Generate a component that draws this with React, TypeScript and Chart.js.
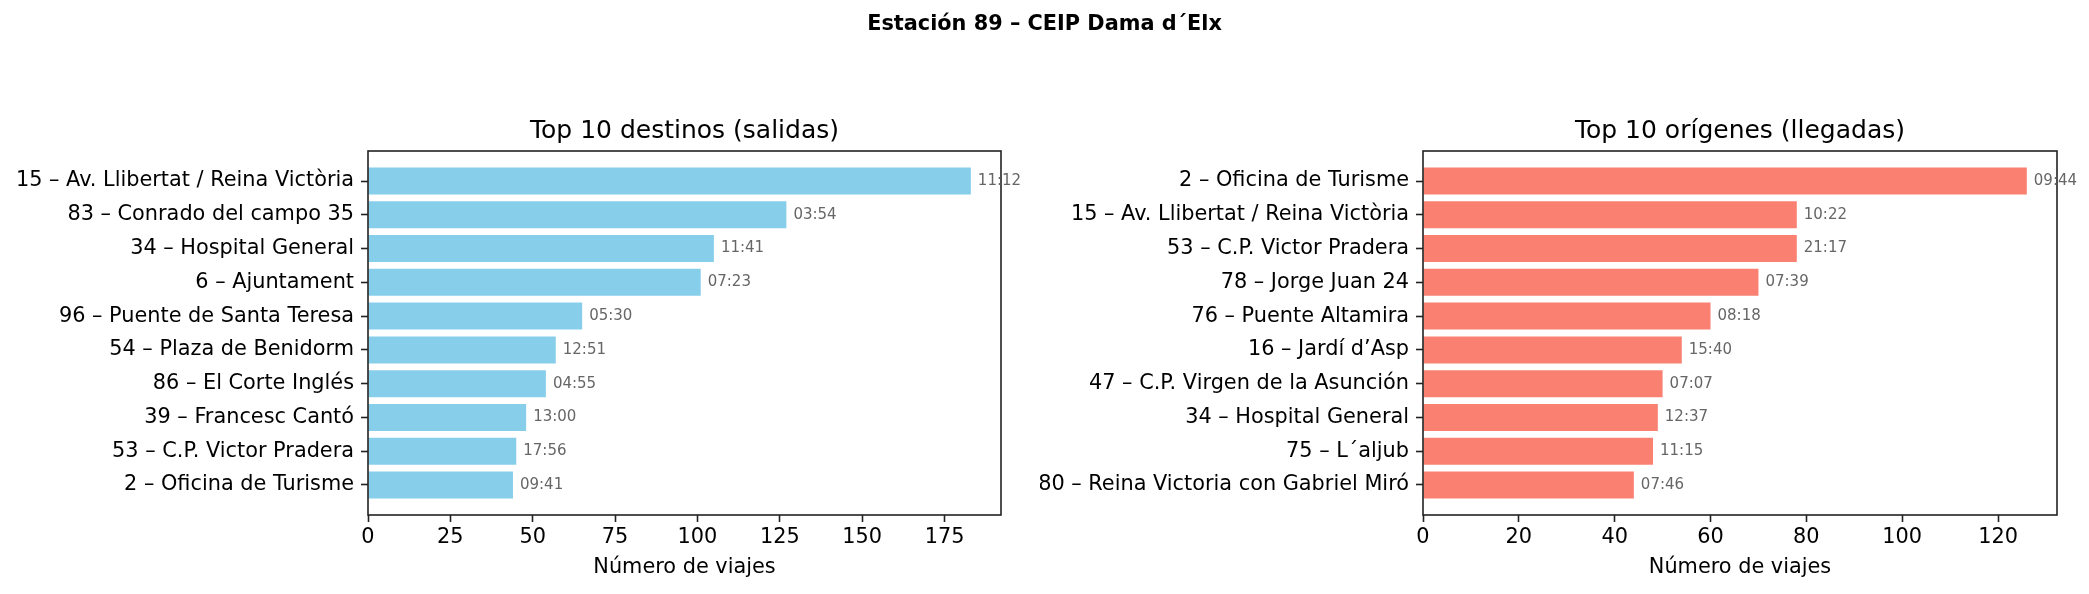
import React, { useEffect, useRef } from "react";
import { Chart, registerables } from "chart.js";

Chart.register(...registerables);

const SUPTITLE = "Estación 89 – CEIP Dama d´Elx";
const X_LABEL = "Número de viajes";

const leftTitle = "Top 10 destinos (salidas)";
const leftStations = [
  "15 – Av. Llibertat / Reina Victòria",
  "83 – Conrado del campo 35",
  "34 – Hospital General",
  "6 – Ajuntament",
  "96 – Puente de Santa Teresa",
  "54 – Plaza de Benidorm",
  "86 – El Corte Inglés",
  "39 – Francesc Cantó",
  "53 – C.P. Victor Pradera",
  "2 – Oficina de Turisme",
];
const leftTrips = [183, 127, 105, 101, 65, 57, 54, 48, 45, 44];
const leftTimes = ["11:12", "03:54", "11:41", "07:23", "05:30", "12:51", "04:55", "13:00", "17:56", "09:41"];
const leftTicks = [0, 25, 50, 75, 100, 125, 150, 175];

const rightTitle = "Top 10 orígenes (llegadas)";
const rightStations = [
  "2 – Oficina de Turisme",
  "15 – Av. Llibertat / Reina Victòria",
  "53 – C.P. Victor Pradera",
  "78 – Jorge Juan 24",
  "76 – Puente Altamira",
  "16 – Jardí d’Asp",
  "47 – C.P. Virgen de la Asunción",
  "34 – Hospital General",
  "75 – L´aljub",
  "80 – Reina Victoria con Gabriel Miró",
];
const rightTrips = [126, 78, 78, 70, 60, 54, 50, 49, 48, 44];
const rightTimes = ["09:44", "10:22", "21:17", "07:39", "08:18", "15:40", "07:07", "12:37", "11:15", "07:46"];
const rightTicks = [0, 20, 40, 60, 80, 100, 120];

const FONT = "'DejaVu Sans', sans-serif";
const PAGE_W = 2089;
const PAGE_H = 594;
const SPLIT = 1040;
const AXES_TOP = 151;
const TITLE_Y = 131.2;
const TICK_SIZE = 20.83;

if (typeof document !== "undefined") {
  document.body.style.margin = "0";
}

const framePlugin = {
  id: "frame",
  afterDatasetsDraw(chart: any) {
    const { ctx, chartArea } = chart;
    ctx.save();
    ctx.strokeStyle = "#222";
    ctx.lineWidth = 1.6;
    ctx.strokeRect(chartArea.left, chartArea.top, chartArea.right - chartArea.left, chartArea.bottom - chartArea.top);
    ctx.restore();
  },
};

const makeAxesTitle = (title: string) => ({
  id: "axesTitle",
  afterDraw(chart: any) {
    const { ctx, chartArea } = chart;
    ctx.save();
    ctx.font = `25px ${FONT}`;
    ctx.fillStyle = "#000";
    ctx.textAlign = "center";
    ctx.textBaseline = "middle";
    ctx.fillText(title, (chartArea.left + chartArea.right) / 2, TITLE_Y);
    ctx.restore();
  },
});

const makeValueLabels = (times: string[]) => ({
  id: "valueLabels",
  afterDatasetsDraw(chart: any) {
    const meta = chart.getDatasetMeta(0);
    const ctx = chart.ctx;
    ctx.save();
    ctx.font = `15px ${FONT}`;
    ctx.fillStyle = "#666";
    ctx.textAlign = "left";
    ctx.textBaseline = "middle";
    meta.data.forEach((bar: any, i: number) => {
      ctx.fillText(times[i], bar.x + 7, bar.y);
    });
    ctx.restore();
  },
});

type PanelProps = {
  labels: string[];
  values: number[];
  times: string[];
  ticks: number[];
  title: string;
  color: string;
  width: number;
  yAxisWidth: number;
  padRight: number;
  left: number;
};

function Panel(p: PanelProps) {
  const ref = useRef<HTMLCanvasElement | null>(null);
  useEffect(() => {
    if (!ref.current) return;
    const n = p.labels.length;
    const lo = -0.4;
    const hi = n - 1 + 0.4;
    const m = (hi - lo) * 0.05;
    const xmax = Math.max(...p.values) * 1.05;
    const tickFont = { family: FONT, size: TICK_SIZE, weight: "normal" as const, lineHeight: 1.2 };
    const chart = new Chart(ref.current, {
      type: "bar",
      data: {
        datasets: [
          {
            data: p.values.map((v, i) => ({ x: v, y: i })),
            backgroundColor: p.color,
            borderWidth: 0,
            barPercentage: 0.8,
            categoryPercentage: 1.0,
          },
        ],
      },
      options: {
        indexAxis: "y",
        responsive: false,
        animation: false,
        devicePixelRatio: 1,
        layout: { padding: { left: 0, right: p.padRight, top: AXES_TOP, bottom: 0 } },
        plugins: {
          legend: { display: false },
          tooltip: { enabled: false },
          title: { display: false },
        },
        scales: {
          x: {
            type: "linear",
            position: "bottom",
            min: 0,
            max: xmax,
            offset: false,
            afterBuildTicks: (s: any) => {
              s.ticks = p.ticks.map((v) => ({ value: v }));
            },
            afterFit: (s: any) => {
              s.height = 79;
            },
            grid: {
              display: true,
              offset: false,
              drawOnChartArea: false,
              drawTicks: true,
              tickLength: 7,
              tickWidth: 1.6,
              tickColor: "#222",
            },
            border: { display: false },
            ticks: { color: "#000", font: tickFont, padding: 3, maxRotation: 0, autoSkip: false },
            title: {
              display: true,
              text: X_LABEL,
              color: "#000",
              font: tickFont,
              padding: { top: 0, bottom: 13.5 },
            },
          },
          y: {
            type: "linear",
            reverse: true,
            min: lo - m,
            max: hi + m,
            offset: false,
            afterBuildTicks: (s: any) => {
              s.ticks = p.labels.map((_, i) => ({ value: i }));
            },
            afterFit: (s: any) => {
              s.width = p.yAxisWidth;
            },
            grid: {
              display: true,
              offset: false,
              drawOnChartArea: false,
              drawTicks: true,
              tickLength: 7,
              tickWidth: 1.6,
              tickColor: "#222",
            },
            border: { display: false },
            ticks: {
              color: "#000",
              font: tickFont,
              padding: 7,
              autoSkip: false,
              callback: (v: any) => p.labels[Number(v)] ?? "",
            },
          },
        },
      } as any,
      plugins: [framePlugin, makeValueLabels(p.times), makeAxesTitle(p.title)],
    });
    return () => chart.destroy();
  }, []);
  return (
    <canvas
      ref={ref}
      width={p.width}
      height={PAGE_H}
      style={{ position: "absolute", left: p.left, top: 0, width: p.width, height: PAGE_H }}
    />
  );
}

export default function App() {
  return (
    <div style={{ position: "relative", width: PAGE_W, height: PAGE_H, background: "#fff", overflow: "hidden" }}>
      <Panel
        labels={leftStations}
        values={leftTrips}
        times={leftTimes}
        ticks={leftTicks}
        title={leftTitle}
        color="#87CEEB"
        width={SPLIT}
        yAxisWidth={368}
        padRight={SPLIT - 1001}
        left={0}
      />
      <Panel
        labels={rightStations}
        values={rightTrips}
        times={rightTimes}
        ticks={rightTicks}
        title={rightTitle}
        color="#FA8072"
        width={PAGE_W - SPLIT}
        yAxisWidth={1423 - SPLIT}
        padRight={PAGE_W - 2057}
        left={SPLIT}
      />
      <div
        style={{
          position: "absolute",
          top: 13,
          left: 0,
          width: PAGE_W,
          textAlign: "center",
          fontFamily: FONT,
          fontWeight: "bold",
          fontSize: 20.83,
          lineHeight: "20.83px",
          color: "#000",
        }}
      >
        {SUPTITLE}
      </div>
    </div>
  );
}
